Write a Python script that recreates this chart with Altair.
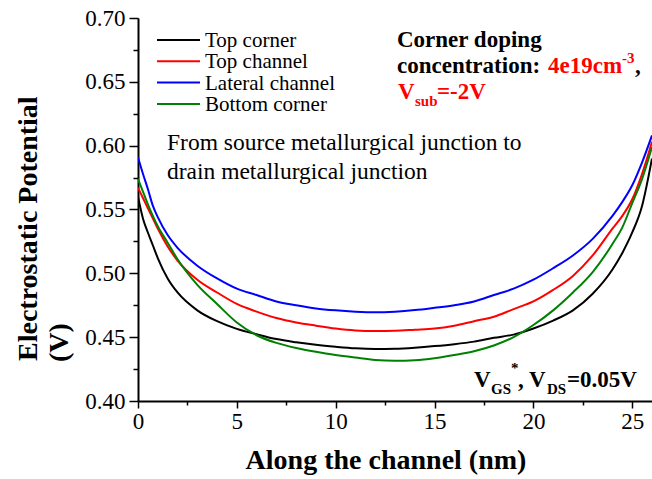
import altair as alt
import pandas as pd

# ---- data ----
x_nm = [0, 0.25, 0.5, 0.75, 1, 1.5, 2, 3, 4, 5, 6, 7, 8, 9, 10, 11, 12, 13, 14, 15,
        16, 17, 18, 19, 20, 21, 22, 23, 24, 24.5, 25, 25.5, 26]
top_corner = [0.560, 0.543, 0.532, 0.522, 0.512, 0.496, 0.485, 0.471, 0.4625, 0.4565, 0.4523,
              0.4485, 0.446, 0.444, 0.4425, 0.4413, 0.4408, 0.441, 0.4418, 0.443, 0.4445, 0.4465,
              0.4495, 0.452, 0.4568, 0.463, 0.471, 0.484, 0.503, 0.516, 0.532, 0.553, 0.590]
top_channel = [0.567, 0.559, 0.551, 0.543, 0.535, 0.521, 0.510, 0.495, 0.485, 0.476, 0.470,
               0.465, 0.4615, 0.459, 0.4568, 0.4553, 0.4548, 0.455, 0.4558, 0.4567, 0.459, 0.4625,
               0.466, 0.472, 0.478, 0.487, 0.498, 0.514, 0.535, 0.545, 0.558, 0.578, 0.603]
lateral_channel = [0.591, 0.578, 0.566, 0.553, 0.544, 0.530, 0.520, 0.506, 0.496, 0.488, 0.483,
                   0.478, 0.475, 0.4725, 0.471, 0.470, 0.4695, 0.470, 0.4712, 0.473, 0.475, 0.478,
                   0.483, 0.488, 0.495, 0.504, 0.514, 0.527, 0.545, 0.556, 0.569, 0.587, 0.608]
bottom_corner = [0.574, 0.564, 0.554, 0.545, 0.537, 0.524, 0.511, 0.491, 0.476, 0.4615, 0.4515,
                 0.4455, 0.4415, 0.4385, 0.436, 0.434, 0.4322, 0.4316, 0.432, 0.4335, 0.436, 0.439,
                 0.4435, 0.450, 0.4595, 0.471, 0.485, 0.501, 0.523, 0.536, 0.555, 0.574, 0.599]

series_names = ["Top corner", "Top channel", "Lateral channel", "Bottom corner"]
series_colors = ["#000000", "#ff0000", "#0000ff", "#008000"]
x_ticks = [0, 2.5, 5, 7.5, 10, 12.5, 15, 17.5, 20, 22.5, 25]
y_ticks = [0.40, 0.425, 0.45, 0.475, 0.50, 0.525, 0.55, 0.575, 0.60, 0.625, 0.65, 0.675, 0.70]

rows = []
for name, vals in zip(series_names, [top_corner, top_channel, lateral_channel, bottom_corner]):
    for xv, yv in zip(x_nm, vals):
        rows.append({"x": xv, "v": yv, "series": name})
df = pd.DataFrame(rows)

SERIF = "Liberation Serif"
W, H = 514, 383

y_major = "abs(datum.value*20 - round(datum.value*20)) < 0.001"
x_major = "abs(datum.value/5 - round(datum.value/5)) < 0.001"

lines = alt.Chart(df).mark_line(strokeWidth=2, clip=True, interpolate="monotone").encode(
    x=alt.X("x:Q", scale=alt.Scale(domain=[0, 26], nice=False, zero=False),
            axis=alt.Axis(values=x_ticks, title=None, grid=False,
                          labelExpr=f"{x_major} ? format(datum.value, 'd') : ''",
                          tickSize={"condition": {"test": x_major, "value": 7}, "value": 4},
                          labelFlush=False, labelOverlap=False, labelPadding=2)),
    y=alt.Y("v:Q", scale=alt.Scale(domain=[0.40, 0.70], nice=False, zero=False),
            axis=alt.Axis(values=y_ticks, title=None, grid=False,
                          labelExpr=f"{y_major} ? format(datum.value, '.2f') : ''",
                          tickSize={"condition": {"test": y_major, "value": 9}, "value": 5},
                          labelOverlap=False, labelPadding=4)),
    color=alt.Color("series:N", sort=series_names,
                    scale=alt.Scale(domain=series_names, range=series_colors),
                    legend=None),
)


def txt(s, x, y, size=23, color="black", bold=True, angle=0, align="left"):
    kw = dict(font=SERIF, fontSize=size, color=color, align=align, baseline="alphabetic",
              fontWeight="bold" if bold else "normal")
    if angle:
        kw["angle"] = angle
    return alt.Chart(pd.DataFrame({"t": [s]})).mark_text(**kw).encode(
        text="t:N", x=alt.value(x), y=alt.value(y))


# manual legend (tight rows as in the reference)
legend_layers = []
for i, (name, col) in enumerate(zip(series_names, series_colors)):
    ly = 22 + i * 21.3
    legend_layers.append(
        alt.Chart(pd.DataFrame({"s": [name]})).mark_rule(strokeWidth=2, color=col).encode(
            x=alt.value(19), x2=alt.value(62), y=alt.value(ly)))
    legend_layers.append(txt(name, 67, ly + 7, size=21, bold=False))

texts = [
    txt("Corner doping", 259, 29),
    txt("concentration:", 259, 55),
    txt("4e19cm", 410, 55, color="#ff0000"),
    txt("-3", 484, 45, size=15, color="#ff0000"),
    txt(",", 497, 55),
    txt("V", 260, 81, color="#ff0000"),
    txt("sub", 277, 88, size=15, color="#ff0000"),
    txt("=-2V", 299, 81, color="#ff0000"),
    txt("From source metallurgical junction to", 29, 132, size=23.5, bold=False),
    txt("drain metallurgical junction", 29, 161, size=23.5, bold=False),
    txt("V", 336, 369),
    txt("GS", 353, 376, size=15),
    txt("*", 373, 355, size=15),
    txt(", V", 380, 369),
    txt("DS", 409, 376, size=15),
    txt("=0.05V", 429, 369),
    txt("Along the channel (nm)", 248, 451, size=28, align="center"),
    txt("Electrostatic Potential", -101, 343, size=28, angle=270),
    txt("(V)", -70, 344, size=28, angle=270),
]

chart = alt.layer(lines, *legend_layers, *texts).properties(
    width=W, height=H,
    autosize=alt.AutoSizeParams(type="none"),
    padding={"left": 138, "top": 18, "right": 0, "bottom": 78},
    background="white",
).configure_view(stroke=None).configure_axis(
    domainColor="black", domainWidth=2, tickColor="black", tickWidth=1.5,
    labelFont=SERIF, labelFontSize=23, labelColor="black",
)

chart.save("out.html", embed_options={"renderer": "svg", "actions": False})
